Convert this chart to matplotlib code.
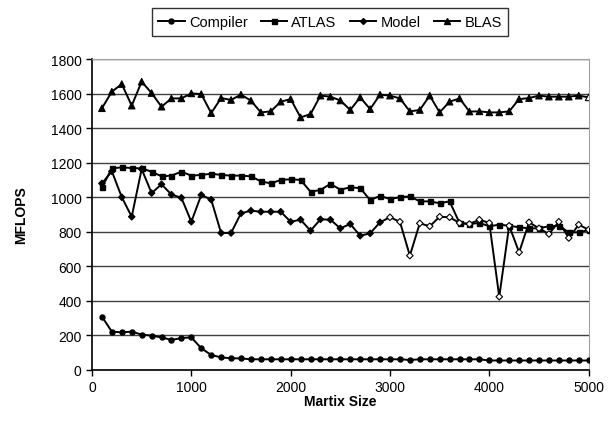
import numpy as np
import matplotlib
matplotlib.use("Agg")
import matplotlib.pyplot as plt

plt.rcParams['font.family'] = ['Liberation Sans', 'DejaVu Sans']

sizes = list(range(100, 5001, 100))

compiler = [309, 222, 218, 222, 205, 199, 189, 174, 185, 189,
            126, 87, 73, 68, 67, 62, 62, 62, 62, 62,
            62, 62, 62, 62, 62, 62, 62, 62, 62, 62,
            62, 58, 62, 62, 62, 62, 62, 62, 62, 55,
            55, 55, 55, 55, 55, 55, 55, 55, 55, 55]

atlas = [1057, 1167, 1173, 1169, 1167, 1148, 1121, 1125, 1148, 1125,
         1129, 1136, 1129, 1125, 1125, 1121, 1092, 1080, 1100, 1104,
         1100, 1032, 1042, 1077, 1044, 1057, 1053, 984, 1007, 990,
         1000, 1005, 976, 976, 965, 976, 851, 845, 851, 832,
         841, 835, 826, 820, 820, 832, 835, 797, 797, 810]

model = [1080, 1150, 1000, 887, 1163, 1024, 1075, 1015, 997, 858,
         1013, 986, 793, 793, 907, 922, 916, 916, 916, 858,
         870, 806, 872, 870, 820, 845, 777, 791, 855, 884,
         858, 662, 849, 832, 887, 884, 851, 845, 870, 851,
         424, 835, 681, 855, 820, 787, 858, 764, 841, 812]

blas = [1515, 1611, 1655, 1530, 1669, 1603, 1524, 1572, 1572, 1601,
        1597, 1487, 1574, 1563, 1594, 1559, 1491, 1497, 1553, 1568,
        1462, 1481, 1588, 1582, 1560, 1505, 1578, 1510, 1594, 1588,
        1572, 1497, 1505, 1588, 1491, 1553, 1572, 1496, 1497, 1491,
        1491, 1497, 1568, 1574, 1588, 1582, 1582, 1582, 1588, 1578]

# model points from 3000 on are drawn with hollow markers, as is the last BLAS point
model_open_from = 3000
blas_open = [5000]

fig = plt.figure(figsize=(6.1, 4.39), dpi=100)
ax = fig.add_axes([0.1508, 0.1549, 0.8142, 0.7084])

x = np.array(sizes)
ax.plot(x, compiler, '-o', color='black', lw=1.4, ms=3.6, label='Compiler', zorder=3)
ax.plot(x, atlas, '-s', color='black', lw=1.4, ms=3.6, label='ATLAS', zorder=3)

model_fill = ['black' if s < model_open_from else 'white' for s in sizes]
ax.plot(x, model, '-', color='black', lw=1.4, zorder=3)
ax.scatter(x, model, marker='D', s=11, c=model_fill, edgecolors='black', linewidths=0.8, zorder=4)
ax.plot([], [], '-D', color='black', lw=1.4, ms=3.0, label='Model')

blas_fill = ['white' if s in blas_open else 'black' for s in sizes]
ax.plot(x, blas, '-', color='black', lw=1.4, zorder=3)
ax.scatter(x, blas, marker='^', s=22, c=blas_fill, edgecolors='black', linewidths=0.8, zorder=4)
ax.plot([], [], '-^', color='black', lw=1.4, ms=4.0, label='BLAS')

ax.set_xlim(0, 5000)
ax.set_ylim(0, 1800)
ax.set_xticks(range(0, 5001, 1000))
ax.set_yticks(range(0, 1801, 200))
ax.yaxis.grid(True, color='#404040', lw=1.0)
ax.set_axisbelow(True)
for side in ['top', 'right']:
    ax.spines[side].set_color('#a0a0a0')
for side in ['left', 'bottom']:
    ax.spines[side].set_color('black')
    ax.spines[side].set_linewidth(1.2)
ax.tick_params(axis='both', labelsize=10, length=4, width=1, direction='out')

ax.set_xlabel('Martix Size', fontsize=10, fontweight='bold', labelpad=0)
ax.set_ylabel('MFLOPS', fontsize=10, fontweight='bold', labelpad=16)

leg = fig.legend(loc='upper center', bbox_to_anchor=(0.541, 0.995), ncol=4,
                 fontsize=10.5, frameon=True, fancybox=False, edgecolor='black',
                 handlelength=1.8, handletextpad=0.3, columnspacing=0.9,
                 borderpad=0.45)
leg.get_frame().set_linewidth(1.0)

fig.savefig('out.png', dpi=100)
